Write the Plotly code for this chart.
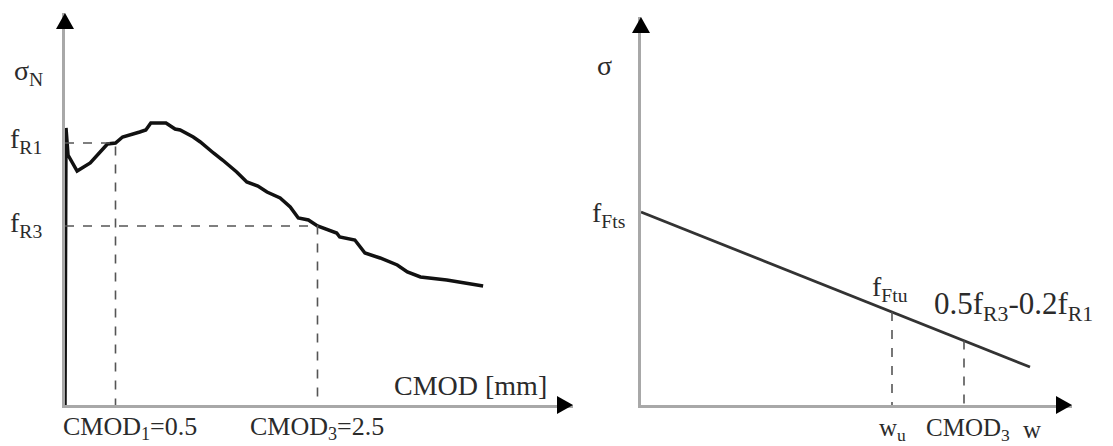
import plotly.graph_objects as go

W, H = 1113, 446

# Left panel: nominal stress vs. crack mouth opening displacement (CMOD, mm)
cmod = [0.0, 0.01, 0.03, 0.12, 0.25, 0.42, 0.5, 0.57, 0.74, 0.8, 0.85, 1.0, 1.09,
        1.14, 1.27, 1.34, 1.47, 1.56, 1.70, 1.80, 1.91, 2.0, 2.13, 2.23, 2.31,
        2.41, 2.5, 2.69, 2.72, 2.87, 2.97, 3.12, 3.29, 3.39, 3.52, 3.78, 4.14]
sigma_n = [0.0, 5.54, 5.0, 4.68, 4.84, 5.22, 5.24, 5.36, 5.46, 5.5, 5.64, 5.64, 5.52,
           5.5, 5.36, 5.26, 5.04, 4.90, 4.66, 4.46, 4.38, 4.26, 4.14, 3.96, 3.74,
           3.70, 3.58, 3.44, 3.36, 3.30, 3.04, 2.94, 2.80, 2.66, 2.56, 2.50, 2.38]
cmod_1, f_r1 = 0.5, 5.24
cmod_3, f_r3 = 2.5, 3.58

# Right panel: linear softening law sigma(w)
w_line = [0.0, 3.89]
sigma_line = [3.86, 0.76]
w_u, f_ftu = 2.51, 1.86
w_cmod3, sigma_cmod3 = 3.23, 1.29

SERIF = '"Liberation Serif", "Times New Roman", Times, serif'
TXT = "#2b2b2b"
AX = "#a8a8a8"
DASH = "#555555"


def px(x):
    return x / W


def py(y):
    return 1 - y / H


fig = go.Figure()

# measured curve
fig.add_trace(go.Scatter(x=cmod, y=sigma_n, mode="lines",
                         line=dict(color="#111111", width=3.5), xaxis="x", yaxis="y"))
# reference lines for fR1 / fR3
for xv, yv in [(cmod_1, f_r1), (cmod_3, f_r3)]:
    fig.add_trace(go.Scatter(x=[0, xv, xv], y=[yv, yv, 0], mode="lines",
                             line=dict(color=DASH, width=1.6, dash="dash"),
                             xaxis="x", yaxis="y"))

# softening line
fig.add_trace(go.Scatter(x=w_line, y=sigma_line, mode="lines",
                         line=dict(color="#333333", width=2.8), xaxis="x2", yaxis="y2"))
for xv, yv in [(w_u, f_ftu), (w_cmod3, sigma_cmod3)]:
    fig.add_trace(go.Scatter(x=[xv, xv], y=[yv, 0], mode="lines",
                             line=dict(color=DASH, width=1.6, dash="dash"),
                             xaxis="x2", yaxis="y2"))

axis_common = dict(showgrid=False, zeroline=False, showticklabels=False, ticks="",
                   showline=True, linecolor=AX, linewidth=2.5, fixedrange=True)

# panel frames in pixels: (left, right, bottom, top)
L_box = (65, 573, 405, 13)
R_box = (641, 1072, 405, 17)

fig.update_layout(
    width=W, height=H,
    margin=dict(l=0, r=0, t=0, b=0),
    paper_bgcolor="white", plot_bgcolor="white",
    showlegend=False,
    xaxis=dict(domain=[px(L_box[0]), px(L_box[1])], range=[0, 5.03], anchor="y", **axis_common),
    yaxis=dict(domain=[py(L_box[2]), py(L_box[3])], range=[0, 7.84], anchor="x", **axis_common),
    xaxis2=dict(domain=[px(R_box[0]), px(R_box[1])], range=[0, 4.31], anchor="y2", **axis_common),
    yaxis2=dict(domain=[py(R_box[2]), py(R_box[3])], range=[0, 7.76], anchor="x2", **axis_common),
)

# arrow heads at the axis ends
shapes = []
for (l, r, b, t) in [L_box, R_box]:
    shapes.append(dict(type="path", xref="paper", yref="paper",
                       path=f"M {px(l)},{py(t)} L {px(l-9)},{py(t+16)} L {px(l+9)},{py(t+16)} Z",
                       fillcolor="black", line=dict(width=0)))
    shapes.append(dict(type="path", xref="paper", yref="paper",
                       path=f"M {px(r)},{py(b)} L {px(r-16)},{py(b-9)} L {px(r-16)},{py(b+9)} Z",
                       fillcolor="black", line=dict(width=0)))
fig.update_layout(shapes=shapes)


def label(text, x, y, xanchor="left", size=28, xref="paper"):
    fig.add_annotation(text=text, x=x if xref != "paper" else px(x), y=py(y),
                       xref=xref, yref="paper", xanchor=xanchor, yanchor="middle",
                       showarrow=False, font=dict(family=SERIF, size=size, color=TXT))


label("σ<sub>N</sub>", 12, 72)
label("f<sub>R1</sub>", 8, 140)
label("f<sub>R3</sub>", 8, 224)
label("CMOD [mm]", 549, 385, xanchor="right")
label("CMOD<sub>1</sub>=0.5", 61, 428, size=26)
label("CMOD<sub>3</sub>=2.5", cmod_3, 428, xanchor="center", xref="x", size=26)

label("σ", 604, 66, xanchor="center")
label("f<sub>Fts</sub>", 590, 215)
label("f<sub>Ftu</sub>", 870, 288)
label("0.5f<sub>R3</sub>-0.2f<sub>R1</sub>", 932, 306, size=31)
label("w<sub>u</sub>", w_u, 429, xanchor="center", xref="x2", size=25)
label("CMOD<sub>3</sub>", 968, 429, xanchor="center", size=25)
label("w", 1032, 429, xanchor="center", size=25)

fig.write_html("out.html")
